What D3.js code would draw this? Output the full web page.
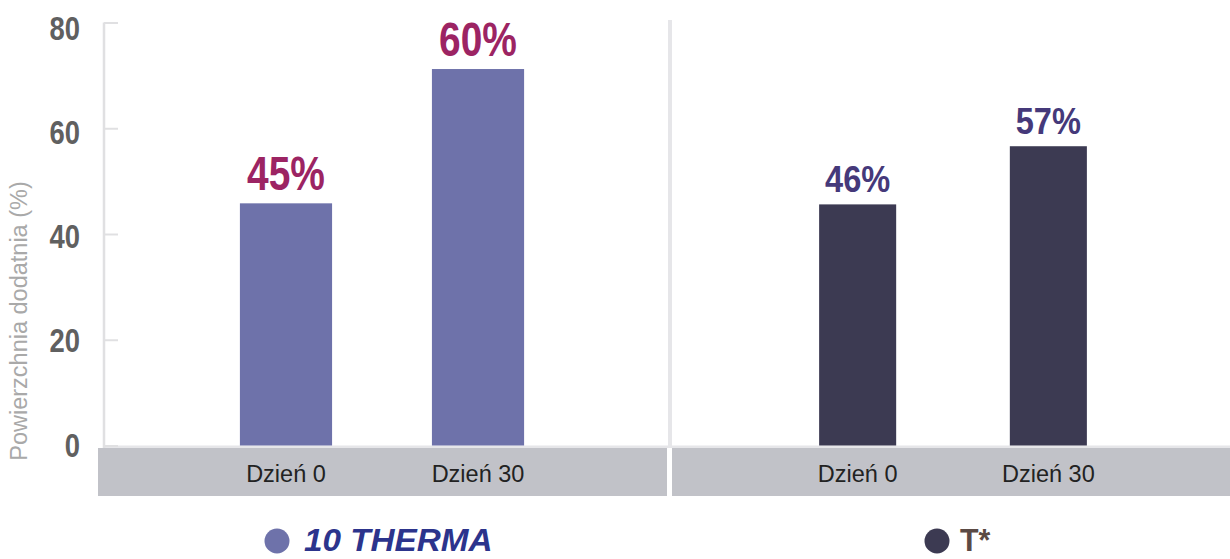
<!DOCTYPE html>
<html>
<head>
<meta charset="utf-8">
<script src="https://cdn.jsdelivr.net/npm/d3@7"></script>
<style>
  html, body { margin: 0; padding: 0; background: #ffffff; }
  svg { display: block; }
</style>
</head>
<body>
<svg id="chart" width="1230" height="559"></svg>
<script>
// ---- data ----
const categories = ["Dzień 0", "Dzień 30"];
const groups = ["10 THERMA", "T*"];
const thermaValues = [45.8, 71.2];      // bar heights as drawn
const tstarValues = [45.6, 56.6];       // bar heights as drawn
const thermaLabels = ["45%", "60%"];
const tstarLabels = ["46%", "57%"];
const yTicks = [0, 20, 40, 60, 80];
const yTitle = "Powierzchnia dodatnia (%)";

// ---- layout / style ----
const svg = d3.select("#chart");
const W = 1230;
const axisX = 104;
const dividerX = 670;
const bandTop = 448, bandBottom = 496;

const y = d3.scaleLinear().domain([0, 80]).range([445.5, 22.5]);

const sans = "'Liberation Sans', Arial, sans-serif";

// gray category band (two panels)
svg.append("rect").attr("x", 98).attr("y", bandTop)
  .attr("width", dividerX - 3 - 98).attr("height", bandBottom - bandTop)
  .attr("fill", "#c1c2c8");
svg.append("rect").attr("x", dividerX + 2).attr("y", bandTop)
  .attr("width", W - dividerX - 2).attr("height", bandBottom - bandTop)
  .attr("fill", "#c1c2c8");

// baseline strip
svg.append("rect").attr("x", axisX - 1).attr("y", y(0))
  .attr("width", W - axisX + 1).attr("height", bandTop - y(0))
  .attr("fill", "#e6e6e9");

// divider line
svg.append("rect").attr("x", dividerX - 2).attr("y", 20)
  .attr("width", 4).attr("height", bandTop - 20)
  .attr("fill", "#e6e6e9");

// y axis
const yAxis = d3.axisLeft(y).tickValues(yTicks).tickSizeInner(-14).tickSizeOuter(0).tickPadding(24);
const gAxis = svg.append("g").attr("transform", `translate(${axisX},0)`).call(yAxis);
gAxis.select(".domain").attr("stroke", "#e0e0e2").attr("stroke-width", 2.5)
  .attr("d", `M0,${y(80)}V${bandTop}`);
gAxis.selectAll(".tick line").attr("stroke", "#e0e0e2").attr("stroke-width", 2);
const sx = 0.83;
gAxis.selectAll(".tick text")
  .attr("font-family", sans).attr("font-weight", "bold")
  .attr("font-size", 33).attr("fill", "#606060")
  .attr("x", -24 / sx)
  .attr("dy", (d) => (0.32 * 33 + (d / 80) * 6) + "px")
  .attr("transform", `scale(${sx},1)`);

// y title
svg.append("text")
  .attr("transform", "translate(27,321) rotate(-90)")
  .attr("text-anchor", "middle")
  .attr("font-family", sans)
  .attr("font-size", 23.5).attr("fill", "#a9a9a9")
  .text(yTitle);

// panels
const panels = [
  { values: thermaValues, labels: thermaLabels, range: [98, 666], padIn: 0.52, padOut: 0.739,
    bar: "#6e72aa", lab: "#9c2463", labSize: 48, labScale: 0.81, gap: 13 },
  { values: tstarValues, labels: tstarLabels, range: [674, 1232], padIn: 0.596, padOut: 0.761,
    bar: "#3c3a52", lab: "#45397a", labSize: 37, labScale: 0.88, gap: 12 }
];

panels.forEach((p) => {
  const xs = d3.scaleBand().domain(categories).range(p.range)
    .paddingInner(p.padIn).paddingOuter(p.padOut);
  const data = categories.map((c, i) => ({ c, v: p.values[i], l: p.labels[i] }));
  const g = svg.append("g");
  g.selectAll("rect.bar").data(data).enter().append("rect")
    .attr("class", "bar")
    .attr("x", (d) => xs(d.c)).attr("width", xs.bandwidth())
    .attr("y", (d) => y(d.v)).attr("height", (d) => y(0) - y(d.v))
    .attr("fill", p.bar);
  g.selectAll("g.lab").data(data).enter().append("g")
    .attr("class", "lab")
    .attr("transform", (d) => `translate(${xs(d.c) + xs.bandwidth() / 2},${y(d.v) - p.gap}) scale(${p.labScale},1)`)
    .append("text")
    .attr("text-anchor", "middle")
    .attr("font-family", sans).attr("font-weight", "bold")
    .attr("font-size", p.labSize).attr("fill", p.lab)
    .text((d) => d.l);
  g.selectAll("text.cat").data(data).enter().append("text")
    .attr("class", "cat")
    .attr("x", (d) => xs(d.c) + xs.bandwidth() / 2).attr("y", 482)
    .attr("text-anchor", "middle")
    .attr("font-family", sans)
    .attr("font-size", 23.5).attr("fill", "#222222")
    .text((d) => d.c);
});

// legend
const legend = [
  { name: groups[0], cx: 277, color: "#6e72aa", tx: 304, tcolor: "#2c348c", italic: true, scale: 1.04 },
  { name: groups[1], cx: 937, color: "#3c3a52", tx: 960, tcolor: "#5b4a44", italic: false, scale: 0.95 }
];
legend.forEach((l) => {
  svg.append("circle").attr("cx", l.cx).attr("cy", 541).attr("r", 12.5).attr("fill", l.color);
  svg.append("g").attr("transform", `translate(${l.tx},551) scale(${l.scale},1)`)
    .append("text")
    .attr("font-family", sans)
    .attr("font-weight", "bold")
    .attr("font-style", l.italic ? "italic" : "normal")
    .attr("font-size", 32).attr("fill", l.tcolor)
    .text(l.name);
});
</script>
</body>
</html>
